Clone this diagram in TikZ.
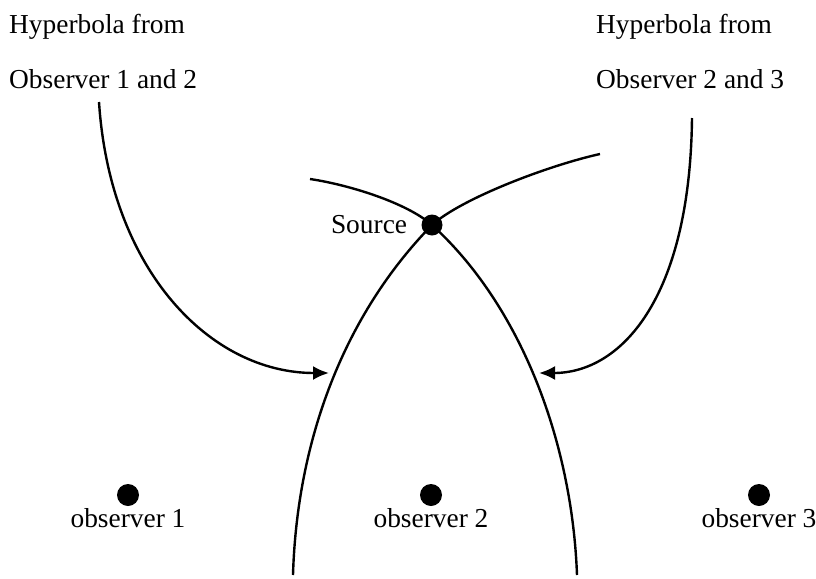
\documentclass[tikz,border=0pt]{standalone}
\usepackage{fontspec}
\setmainfont{Liberation Serif}
\usetikzlibrary{positioning, arrows.meta}

\tikzset{
  txt/.style={anchor=base west, inner sep=0pt},
  dot/.style={circle, fill=black, inner sep=0pt, minimum size=#1},
  dot/.default=10.5pt,
  pointer/.style={-{Latex[length=8pt, width=7pt]}}
}

\begin{document}
\begin{tikzpicture}[x=0.5pt, y=-0.5pt, line width=1.2pt, font=\fontsize{13.7}{16}\selectfont]
  \useasboundingbox (0,0) rectangle (816,579);
  % headings
  \node[txt] (h12a) at (8,33) {Hyperbola from};
  \node[txt] (h12b) at (8,88) {Observer 1 and 2};
  \node[txt] (h23a) at (595,33) {Hyperbola from};
  \node[txt] (h23b) at (595,88) {Observer 2 and 3};
  % source and observers
  \node[dot] (src) at (432,225) {};
  \node[left=6pt of src, inner sep=0pt] (srclbl) {Source};
  \node[dot=11pt] (o1) at (128,495) {};
  \node[dot=11pt] (o2) at (431,495) {};
  \node[dot=11pt] (o3) at (759,495) {};
  \node[below=0pt of o1, inner sep=0pt] (l1) {observer 1};
  \node[below=0pt of o2, inner sep=0pt] (l2) {observer 2};
  \node[below=0pt of o3, inner sep=0pt] (l3) {observer 3};
  % the two hyperbolas
  \coordinate (a0) at (310,179);
  \coordinate (a1) at (577,575);
  \coordinate (b0) at (600,154);
  \coordinate (b1) at (293,575);
  \draw (a0) .. controls (350,185) and (407,203) .. (src.center)
             .. controls (520,305) and (572,440) .. (a1);
  \draw (b0) .. controls (550,165) and (462,198) .. (src.center)
             .. controls (344,315) and (297,440) .. (b1);
  % pointers
  \coordinate (s12) at (99,102);
  \coordinate (t12) at (329,373);
  \coordinate (s23) at (692,118);
  \coordinate (t23) at (539,373);
  \draw[pointer] (s12) .. controls (110,270) and (210,373) .. (t12);
  \draw[pointer] (s23) .. controls (690,300) and (620,373) .. (t23);
\end{tikzpicture}
\end{document}
